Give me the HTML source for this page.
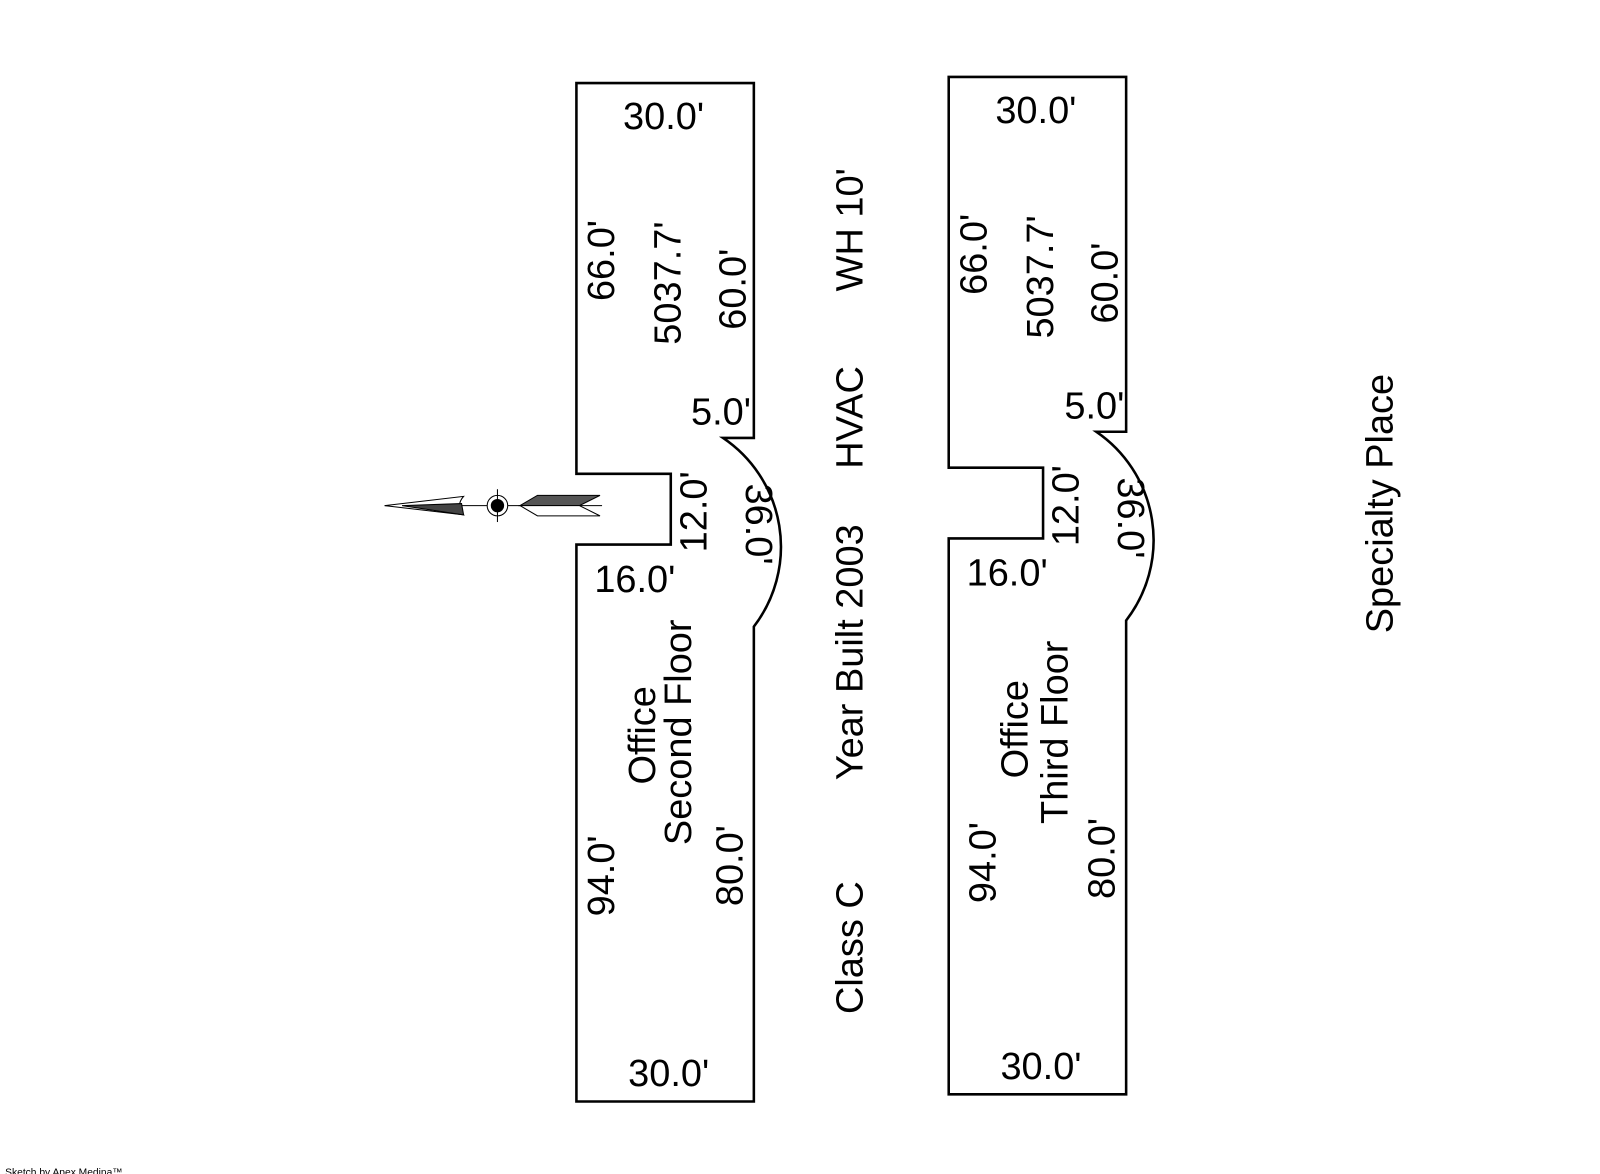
<!DOCTYPE html>
<html><head><meta charset="utf-8"><style>
html,body{margin:0;padding:0;background:#fff;width:1600px;height:1174px;overflow:hidden}
svg{display:block}
text{font-family:"Liberation Sans",Arial,sans-serif;font-size:37px;fill:#000}
</style></head><body>
<svg width="1600" height="1174" viewBox="0 0 1560 1144.7" xmlns="http://www.w3.org/2000/svg">
<g transform="translate(-3,-1)">
<g fill="none" stroke="#000" stroke-width="2.5">
<path d="M565 82 H738 V428 H708 A128 128 0 0 1 738 612 V1075 H565 V532 H657 V463 H565 Z"/>
<path d="M928 76 H1101 V422 H1072 A128 128 0 0 1 1101 606 V1068 H928 V526 H1020 V457 H928 Z"/>
</g>
<g stroke="#000" stroke-width="1">
<line x1="378" y1="494" x2="590" y2="494"/>
<path d="M378 494 L455 485 Q447 494 455 503 Z" fill="#fff"/>
<path d="M395 494 L453 492 L455 503 Z" fill="#444"/>
<circle cx="488" cy="494" r="10" fill="#fff"/>
<circle cx="488" cy="494" r="6" fill="#000"/>
<line x1="488" y1="478" x2="488" y2="510"/>
<path d="M510 494 L527 484 L588 484 L568 494 Z" fill="#555"/>
<path d="M510 494 L527 504 L588 504 L568 494 Z" fill="#fff"/>
</g>
<g text-anchor="middle">
<text x="650" y="127">30.0'</text>
<text x="655" y="1060">30.0'</text>
<text x="706" y="415">5.0'</text>
<text x="622" y="578">16.0'</text>
<text x="1013" y="121">30.0'</text>
<text x="1018" y="1053">30.0'</text>
<text x="1070" y="409">5.0'</text>
<text x="985" y="572">16.0'</text>
</g>
<g text-anchor="middle" dominant-baseline="central">
<text transform="translate(590,255) rotate(-90)">66.0'</text>
<text transform="translate(655,277) rotate(-90)">5037.7'</text>
<text transform="translate(718,283) rotate(-90)">60.0'</text>
<text transform="translate(680,500) rotate(-90)">12.0'</text>
<text transform="translate(742,512) rotate(90)">36.0'</text>
<text transform="translate(630,718) rotate(-90)">Office</text>
<text transform="translate(665,715) rotate(-90)">Second Floor</text>
<text transform="translate(590,855) rotate(-90)">94.0'</text>
<text transform="translate(715,845) rotate(-90)">80.0'</text>

<text transform="translate(953,249) rotate(-90)">66.0'</text>
<text transform="translate(1018,271) rotate(-90)">5037.7'</text>
<text transform="translate(1081,277) rotate(-90)">60.0'</text>
<text transform="translate(1043,494) rotate(-90)">12.0'</text>
<text transform="translate(1105,506) rotate(90)">36.0'</text>
<text transform="translate(993,712) rotate(-90)">Office</text>
<text transform="translate(1032,715) rotate(-90)">Third Floor</text>
<text transform="translate(962,842) rotate(-90)">94.0'</text>
<text transform="translate(1078,838) rotate(-90)">80.0'</text>

<text transform="translate(832,225) rotate(-90)">WH 10'</text>
<text transform="translate(832,408) rotate(-90)">HVAC</text>
<text transform="translate(832,637) rotate(-90)">Year Built 2003</text>
<text transform="translate(832,925) rotate(-90)">Class C</text>
<text transform="translate(1349,492) rotate(-90)">Specialty Place</text>
</g>
</g>
<text x="5" y="1146" style="font-size:10px">Sketch by Apex Medina™</text>
</svg>
</body></html>
